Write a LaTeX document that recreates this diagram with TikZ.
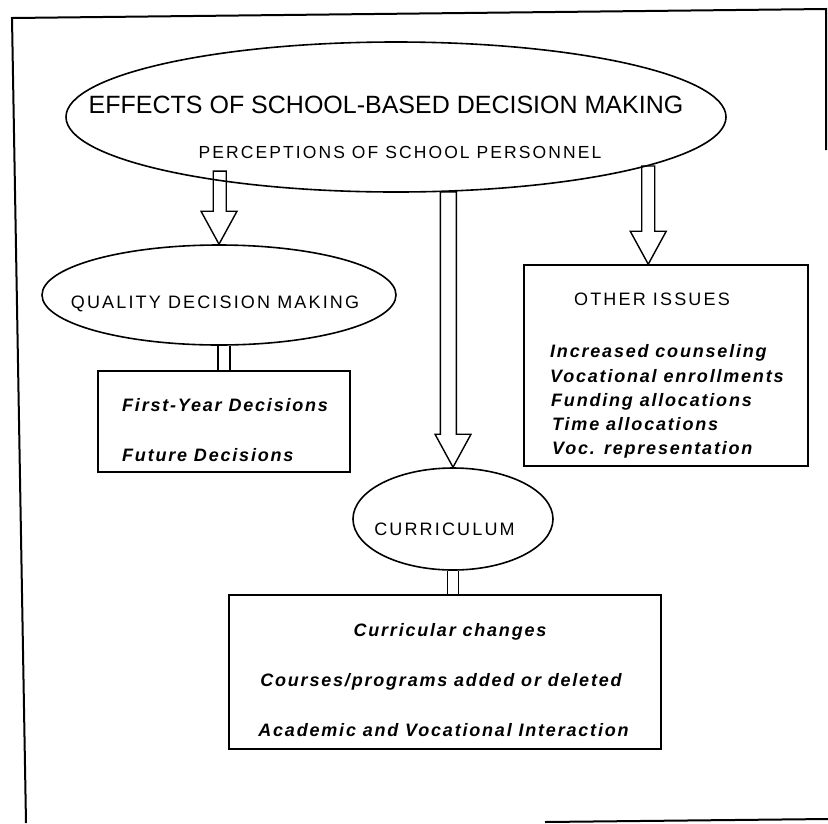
\documentclass[tikz,border=0pt]{standalone}
\usepackage{fontspec}
\setmainfont{Liberation Sans}
\newfontfamily\capfont[LetterSpace=12]{Liberation Sans}
\newfontfamily\listfont[LetterSpace=10]{Liberation Sans}
\usetikzlibrary{shapes.geometric,calc}

\tikzset{
  oval/.style={draw, ellipse, line width=1.6pt, inner sep=0pt},
  box/.style={draw, rectangle, line width=1.6pt, inner sep=0pt},
  headline/.style={font=\fontsize{25}{30}\selectfont, anchor=base, inner sep=0pt},
  heading/.style={font=\capfont\fontsize{18}{22}\selectfont, anchor=base, inner sep=0pt},
  entry/.style={font=\listfont\bfseries\itshape\fontsize{18}{22}\selectfont, anchor=base west, inner sep=0pt},
  % open block arrow, shaft at the start point, head at the target
  hollow/.style={line width=1.4pt, to path={let \p1=(\tikztostart), \p2=(\tikztotarget) in
    (\x1-#1,\y1) -- (\x1-#1,\y2+33pt) -- (\x2-18pt,\y2+33pt) -- (\x2,\y2)
    -- (\x2+18pt,\y2+33pt) -- (\x1+#1,\y2+33pt) -- (\x1+#1,\y1) -- cycle}},
  hollow/.default=6.5pt,
  % short double bar between a shape and its box
  bar/.style={line width=1.4pt, to path={let \p1=(\tikztostart), \p2=(\tikztotarget) in
    (\x1-#1,\y1) -- (\x1-#1,\y2) (\x1+#1,\y1) -- (\x1+#1,\y2)}},
  bar/.default=6pt
}

\begin{document}
\begin{tikzpicture}[x=1pt, y=1pt]
\useasboundingbox (0,0) rectangle (828,-823);

% page frame
\draw[line width=2pt] (826,-150) -- (826,-9) -- (12,-18) -- (26,-823);
\draw[line width=2pt] (545,-822) -- (828,-819);

% shapes
\node[oval, minimum width=660pt, minimum height=150pt] (effects) at (396,-117) {};
\node[oval, minimum width=354pt, minimum height=100pt] (quality) [below of=effects, node distance=178pt, xshift=-177pt] {};
\node[box, minimum width=252pt, minimum height=101pt] (first) [below of=quality, node distance=126.5pt, xshift=5pt] {};
\node[box, minimum width=284pt, minimum height=201pt] (other) [below of=effects, node distance=248.5pt, xshift=270pt] {};
\node[oval, minimum width=200pt, minimum height=102pt] (curriculum) [below of=effects, node distance=402pt, xshift=57pt] {};
\node[box, minimum width=432pt, minimum height=154pt] (changes) [below of=curriculum, node distance=153pt, xshift=-8pt] {};

% texts
\node[headline] (head) at (386,-113) {EFFECTS OF SCHOOL-BASED DECISION MAKING};
\node[heading, font=\capfont\fontsize{17.5}{21}\selectfont] (persp) at (400,-158) {PERCEPTIONS OF SCHOOL PERSONNEL};
\node[heading] (qtext) at (215,-308) {QUALITY DECISION MAKING};
\node[heading] (otext) at (652,-305) {OTHER ISSUES};
\node[heading] (ctext) at (444.5,-535) {CURRICULUM};

\node[entry] (firstyear) at (122,-411) {First-Year Decisions};
\node[entry] (future) at (122,-461) {Future Decisions};

\node[entry] (counsel) at (550,-357) {Increased counseling};
\node[entry] (enrol) at (550,-382) {Vocational enrollments};
\node[entry] (funding) at (551,-406) {Funding allocations};
\node[entry] (time) at (552,-430) {Time allocations};
\node[entry] (voc) at (552,-454) {Voc. representation};

\node[entry, anchor=base] (curchange) at (450,-636) {Curricular changes};
\node[entry, anchor=base] (courses) at (441,-686) {Courses/programs added or deleted};
\node[entry, anchor=base] (interact) at (443.5,-736) {Academic and Vocational Interaction};

% arrows
\coordinate (lefttop) at ([yshift=10pt]effects.200);
\coordinate (midtop) at (effects.305);
\coordinate (righttop) at (effects.349);
\draw[hollow] (lefttop) to (quality.north);
\draw[hollow=8pt] (midtop) to (curriculum.north);
\draw[hollow] (righttop) to (righttop |- other.north);
\draw[bar] (first.north |- quality.south) to (first.north);
\draw[bar=5.5pt] (curriculum.south) to (curriculum.south |- changes.north);
\end{tikzpicture}
\end{document}
